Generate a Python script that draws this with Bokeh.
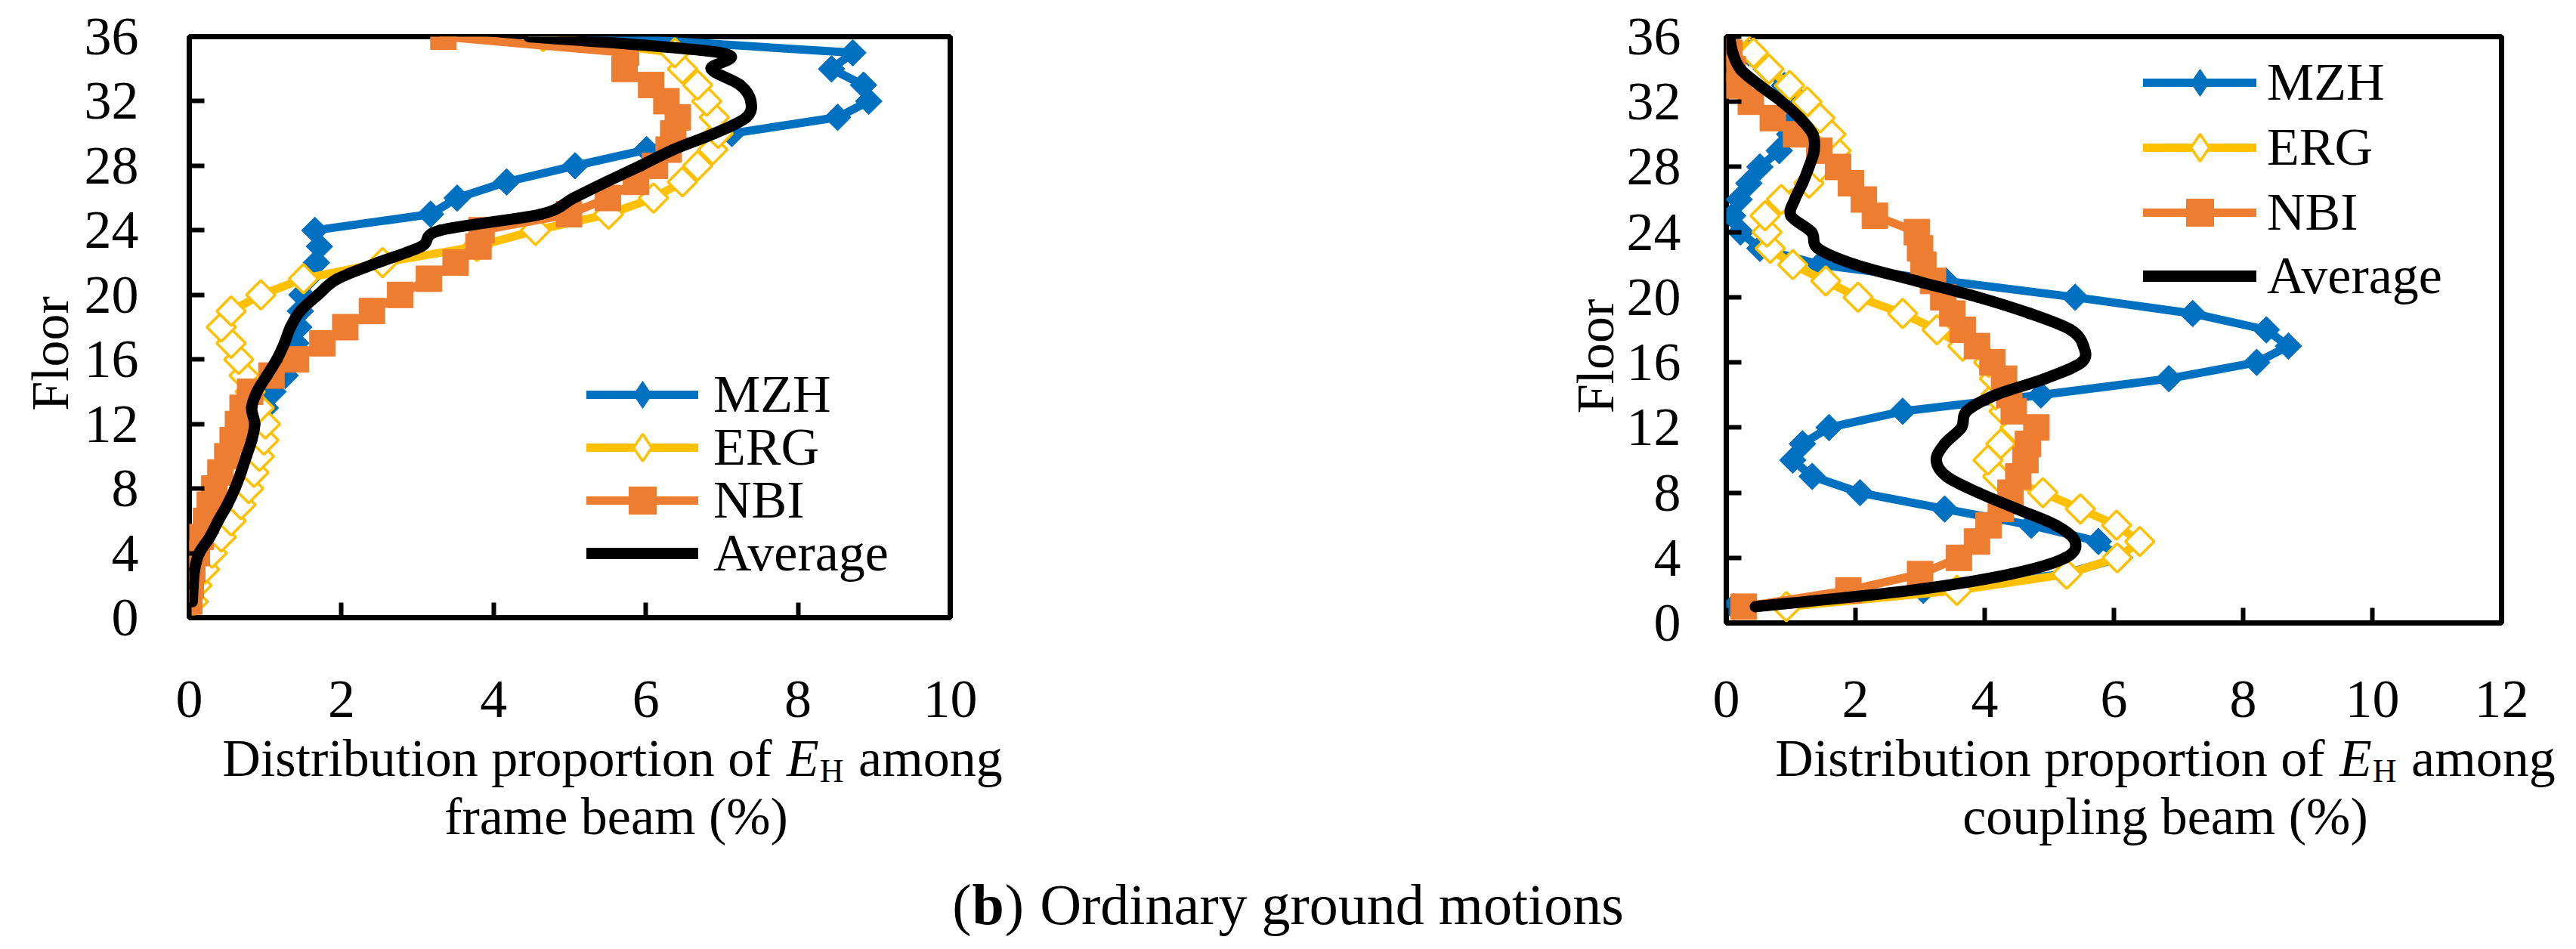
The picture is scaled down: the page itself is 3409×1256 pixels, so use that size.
import math
from bokeh.plotting import figure
from bokeh.models import Range1d, FixedTicker, Label, Legend, LegendItem
from bokeh.layouts import column, row
from bokeh.embed import file_html
from bokeh.resources import INLINE

# ---------------- data ----------------
floors = list(range(1, 37))
y_ticks = [0, 4, 8, 12, 16, 20, 24, 28, 32, 36]
x_ticks_frame = [0, 2, 4, 6, 8, 10]
x_ticks_coupling = [0, 2, 4, 6, 8, 10, 12]
series_names = ["MZH", "ERG", "NBI", "Average"]

frame_mzh = [0.08, 0.10, 0.15, 0.25, 0.38, 0.50, 0.60, 0.70, 0.78, 0.85, 0.90, 0.96, 1.00, 1.10, 1.26, 1.35, 1.40, 1.44,
             1.46, 1.48, 1.55, 1.67, 1.71, 1.65, 3.17, 3.52, 4.17, 5.07, 6.01, 7.13, 8.52, 8.93, 8.86, 8.44, 8.72, 5.40]
frame_erg = [0.05, 0.10, 0.20, 0.30, 0.42, 0.55, 0.68, 0.78, 0.85, 0.92, 0.98, 1.00, 0.92, 0.80, 0.72, 0.65, 0.55, 0.42,
             0.55, 0.94, 1.50, 2.54, 3.78, 4.55, 5.51, 6.10, 6.48, 6.68, 6.88, 6.95, 6.90, 6.80, 6.68, 6.48, 6.38, 4.65]
frame_nbi = [0.00, 0.02, 0.04, 0.10, 0.15, 0.22, 0.27, 0.33, 0.41, 0.50, 0.57, 0.64, 0.70, 0.80, 1.08, 1.40, 1.75, 2.05,
             2.40, 2.77, 3.15, 3.50, 3.80, 3.84, 4.99, 5.50, 5.87, 6.12, 6.30, 6.36, 6.42, 6.27, 6.07, 5.72, 5.74, 3.34]
frame_avg = [0.04, 0.05, 0.07, 0.13, 0.27, 0.38, 0.50, 0.60, 0.68, 0.75, 0.82, 0.86, 0.82, 0.89, 1.02, 1.15, 1.25, 1.33,
             1.46, 1.69, 1.95, 2.48, 3.05, 3.30, 4.62, 5.05, 5.48, 5.93, 6.36, 6.90, 7.32, 7.38, 7.24, 6.86, 6.98, 4.46]

coupling_mzh = [0.12, 3.05, 5.23, 6.09, 5.76, 4.72, 3.38, 2.07, 1.33, 1.03, 1.18, 1.59, 2.73, 4.87, 6.85, 8.21, 8.70, 8.36,
                7.22, 5.40, 3.40, 1.45, 0.52, 0.22, 0.10, 0.20, 0.35, 0.52, 0.82, 0.98, 1.08, 1.15, 0.90, 0.62, 0.35, 0.10]
coupling_erg = [0.93, 3.57, 5.27, 6.05, 6.40, 6.04, 5.48, 4.90, 4.20, 4.05, 4.25, 4.47, 4.30, 4.17, 4.15, 4.06, 3.66, 3.26,
                2.73, 2.04, 1.54, 1.03, 0.68, 0.63, 0.60, 0.85, 1.28, 1.45, 1.70, 1.62, 1.45, 1.25, 0.98, 0.66, 0.42, 0.15]
coupling_nbi = [0.27, 1.89, 3.00, 3.60, 3.88, 4.06, 4.25, 4.40, 4.52, 4.63, 4.67, 4.80, 4.45, 4.38, 4.30, 4.12, 3.88, 3.66,
                3.50, 3.36, 3.20, 3.05, 3.00, 2.95, 2.30, 2.13, 1.93, 1.73, 1.44, 1.08, 0.72, 0.38, 0.20, 0.10, 0.05, 0.00]
coupling_avg = [0.45, 2.85, 4.40, 5.25, 5.40, 5.10, 4.50, 3.90, 3.41, 3.25, 3.38, 3.64, 3.72, 4.17, 4.93, 5.50, 5.53, 5.33,
                4.70, 3.90, 2.94, 2.00, 1.42, 1.32, 1.00, 1.06, 1.18, 1.28, 1.36, 1.34, 1.14, 0.86, 0.52, 0.22, 0.10, 0.05]

# ---------------- styling ----------------
FONT = "Liberation Serif"
BLUE, YELLOW, ORANGE = "#0070C0", "#FFC000", "#ED7D31"
TEXT_PX = 70
TICK_PX = 72
ROW_H = 983          # height of the plot row (fixed, larger than the axes need)
BOT_TOP = 940        # page y where the transparent title/caption strip starts (it overlaps the row a little)
PAGE_H = 1240        # total height of the layout
BOT_H = PAGE_H - BOT_TOP

# Times / Liberation Serif advance widths (1/1000 em) for laying out styled text runs
TW = {' ': 250, 'a': 444, 'b': 500, 'c': 444, 'd': 500, 'e': 444, 'f': 333, 'g': 500, 'h': 500, 'i': 278, 'j': 278,
      'k': 500, 'l': 278, 'm': 778, 'n': 500, 'o': 500, 'p': 500, 'q': 500, 'r': 333, 's': 389, 't': 278, 'u': 500,
      'v': 500, 'w': 722, 'x': 500, 'y': 500, 'z': 444, '(': 333, ')': 333, '%': 833, 'D': 722, 'E': 611, 'H': 722,
      'O': 722, 'F': 556}
TWB = {'b': 556}


def text_w(s, size, bold=False):
    tab = dict(TW, **TWB) if bold else TW
    return sum(tab.get(c, 500) for c in s) * size / 1000.0


def place_pieces(p, pieces, center_x, base_y, gap=0.0):
    total = sum(text_w(t, s, 'bold' in st) for t, s, st, dy in pieces) + gap * (len(pieces) - 1)
    x = center_x - total / 2.0
    for t, s, st, dy in pieces:
        if t.strip():
            p.add_layout(Label(x=x, y=base_y + dy, x_units="screen", y_units="screen", text=t,
                               text_font=FONT, text_font_size=f"{s}px", text_font_style=st,
                               text_color="black", text_align="left", text_baseline="alphabetic"))
        x += text_w(t, s, 'bold' in st) + gap


def smooth_segments(xs, ys):
    n = len(xs)
    seg = dict(x0=[], y0=[], x1=[], y1=[], cx0=[], cy0=[], cx1=[], cy1=[])
    for i in range(n - 1):
        xa, ya = (xs[i - 1], ys[i - 1]) if i > 0 else (xs[i], ys[i])
        xd, yd = (xs[i + 2], ys[i + 2]) if i + 2 < n else (xs[i + 1], ys[i + 1])
        seg["x0"].append(xs[i]); seg["y0"].append(ys[i])
        seg["x1"].append(xs[i + 1]); seg["y1"].append(ys[i + 1])
        seg["cx0"].append(xs[i] + (xs[i + 1] - xa) / 6.0)
        seg["cy0"].append(ys[i] + (ys[i + 1] - ya) / 6.0)
        seg["cx1"].append(xs[i + 1] - (xd - xs[i]) / 6.0)
        seg["cy1"].append(ys[i + 1] - (yd - ys[i]) / 6.0)
    return seg


def make_panel(mzh, erg, nbi, avg, xmax, xticks, fw, fh, bl, bt, br, ystand, xstand, label_standoff,
               legend_rows, leg_vx, glyph_w, leg_standoff):
    p = figure(frame_width=fw, frame_height=fh, x_range=Range1d(0, xmax), y_range=Range1d(0, 36),
               min_border_left=bl, min_border_top=bt, min_border_right=br, min_border_bottom=ROW_H - bt - fh,
               toolbar_location=None, output_backend="svg")
    p.grid.visible = False
    p.outline_line_color = "black"
    p.outline_line_width = 7
    p.background_fill_color = "white"
    p.border_fill_color = "white"
    p.xaxis.ticker = FixedTicker(ticks=xticks)
    p.yaxis.ticker = FixedTicker(ticks=y_ticks)
    for ax in p.axis:
        ax.axis_line_color = None
        ax.major_tick_in = 20
        ax.major_tick_out = 0
        ax.major_tick_line_width = 6
        ax.major_tick_line_color = "black"
        ax.minor_tick_line_color = None
        ax.major_label_text_font = FONT
        ax.major_label_text_font_size = f"{TICK_PX}px"
        ax.major_label_text_color = "black"
    p.yaxis.major_label_standoff = ystand
    p.xaxis.major_label_standoff = xstand
    # trailing no-break spaces nudge the centred, rotated label down the axis as in the original
    p.yaxis.axis_label = "Floor\u00a0\u00a0\u00a0\u00a0"
    p.yaxis.axis_label_text_font = FONT
    p.yaxis.axis_label_text_font_size = f"{TEXT_PX}px"
    p.yaxis.axis_label_text_font_style = "normal"
    p.yaxis.axis_label_text_color = "black"
    p.yaxis.axis_label_standoff = label_standoff

    l1 = p.line(mzh, floors, line_color=BLUE, line_width=11, line_join="round", line_cap="round")
    p.scatter(mzh, floors, marker="square", size=25, angle=math.pi / 4,
              fill_color=BLUE, line_color=BLUE, line_width=1)
    l2 = p.line(erg, floors, line_color=YELLOW, line_width=11, line_join="round", line_cap="round")
    p.scatter(erg, floors, marker="square", size=27, angle=math.pi / 4,
              fill_color="white", line_color=YELLOW, line_width=3.5)
    l3 = p.line(nbi, floors, line_color=ORANGE, line_width=11, line_join="round", line_cap="round")
    m3 = p.scatter(nbi, floors, marker="square", size=34, fill_color=ORANGE, line_color=ORANGE, line_width=1)
    seg = smooth_segments(avg, floors)
    l4 = p.bezier(x0=seg["x0"], y0=seg["y0"], x1=seg["x1"], y1=seg["y1"],
                  cx0=seg["cx0"], cy0=seg["cy0"], cx1=seg["cx1"], cy1=seg["cy1"],
                  line_color="black", line_width=15, line_cap="round")
    # diamond keys for the legend (legend keys are drawn unrotated, so use the diamond marker there)
    k1 = p.scatter(mzh, floors, marker="diamond", fill_color=BLUE, line_color=BLUE, line_width=1, visible=False)
    k2 = p.scatter(erg, floors, marker="diamond", fill_color="white", line_color=YELLOW, line_width=3.5,
                   visible=False)

    rend = [[l1, k1], [l2, k2], [l3, m3], [l4]]
    for name, rs, vy in zip(series_names, rend, legend_rows):
        leg = Legend(items=[LegendItem(label=name, renderers=rs)], location=(leg_vx, vy),
                     glyph_width=glyph_w, glyph_height=90, label_height=90,
                     label_standoff=leg_standoff, padding=0, margin=0, spacing=0,
                     border_line_color=None, background_fill_alpha=0, inactive_fill_alpha=0,
                     label_text_font=FONT, label_text_font_size=f"{TEXT_PX}px",
                     label_text_color="black", label_text_baseline="middle")
        p.add_layout(leg, "center")
    return p


p1 = make_panel(frame_mzh, frame_erg, frame_nbi, frame_avg, 10, x_ticks_frame,
                fw=1007, fh=769, bl=250, bt=48, br=443, ystand=67, xstand=84, label_standoff=4,
                legend_rows=[250, 180, 110, 40], leg_vx=526, glyph_w=148, leg_standoff=20)
p2 = make_panel(coupling_mzh, coupling_erg, coupling_nbi, coupling_avg, 12, x_ticks_coupling,
                fw=1026, fh=776, bl=584, bt=47, br=83, ystand=60, xstand=77, label_standoff=0,
                legend_rows=[670, 584, 498, 414], leg_vx=552, glyph_w=150, leg_standoff=14)

bottom = figure(width=3393, height=BOT_H, x_range=Range1d(0, 1), y_range=Range1d(0, 1), title=None,
                x_axis_location=None, y_axis_location=None, toolbar_location=None, output_backend="svg",
                min_border=0, outline_line_color=None, margin=(BOT_TOP - ROW_H, 0, 0, 0))
bottom.grid.visible = False
bottom.background_fill_alpha = 0
bottom.border_fill_alpha = 0
for cx1, cx2, line2 in [(810, 815, "frame beam (%)"), (2865, 2865, "coupling beam (%)")]:
    place_pieces(bottom, [("Distribution proportion of", TEXT_PX, "normal", 0), (" ", TEXT_PX, "normal", 0),
                          ("E", TEXT_PX, "italic", 0), ("H", 44, "normal", -17), (" ", TEXT_PX, "normal", 0),
                          ("among", TEXT_PX, "normal", 0)], cx1, PAGE_H - 1003, gap=1.0)
    place_pieces(bottom, [(line2, TEXT_PX, "normal", 0)], cx2, PAGE_H - 1080)
place_pieces(bottom, [("(", 76, "normal", 0), ("b", 76, "bold", 0), (")", 76, "normal", 0), (" ", 76, "normal", 0),
                      ("Ordinary ground motions", 76, "normal", 0)], 1704, 44, gap=1.0)

layout = column(row(p1, p2), bottom)
open("out.html", "w").write(file_html(layout, INLINE))
